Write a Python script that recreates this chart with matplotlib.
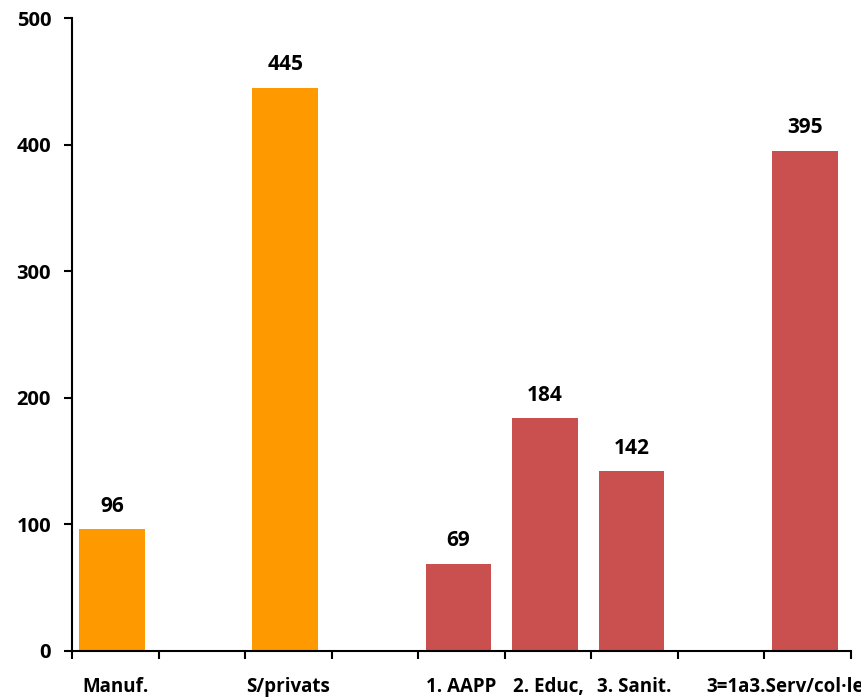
import matplotlib
matplotlib.use("Agg")
import matplotlib.pyplot as plt
import numpy as np

categories = ["Manuf.", "", "S/privats", "", "1. AAPP", "2. Educ,", "3. Sanit.", "", "3=1a3.Serv/col·lectius"]
values = [96, None, 445, None, 69, 184, 142, None, 395]
groups = ["priv", None, "priv", None, "pub", "pub", "pub", None, "pub"]
group_colors = {"priv": "#FF9900", "pub": "#C9504F"}
yticks = [0, 100, 200, 300, 400, 500]

plt.rcParams['font.family'] = ['Open Sans', 'DejaVu Sans']
plt.rcParams['font.weight'] = 'bold'

fig = plt.figure(figsize=(8.61, 6.98), dpi=100)
ax = fig.add_axes([72/861, 47/698, (851-72)/861, (651-18)/698])

x = np.arange(len(categories))
for xi, v, g in zip(x, values, groups):
    if v is None:
        continue
    ax.bar(xi - 0.035, v, width=0.76, color=group_colors[g], zorder=2)
    ax.annotate(str(v), (xi - 0.035, v), xytext=(0, 9), textcoords="offset points",
                ha="center", va="bottom", fontsize=15, fontweight="bold")

ax.set_xlim(-0.5, len(categories) - 0.5)
ax.set_ylim(0, 500)
ax.set_yticks(yticks)
ax.set_yticklabels([str(t) for t in yticks], fontsize=14.5, fontweight="bold")

ax.set_xticks(x)
ax.set_xticklabels(categories, fontsize=13.5, fontweight="bold")
ax.tick_params(axis="x", which="major", length=0, pad=19)
ax.set_xticks(np.arange(len(categories) + 1) - 0.5, minor=True)
ax.tick_params(axis="x", which="minor", length=6, width=1.5, direction="out")
ax.tick_params(axis="y", length=6, width=1.5, direction="out", pad=9)

for s in ["top", "right"]:
    ax.spines[s].set_visible(False)
for s in ["left", "bottom"]:
    ax.spines[s].set_linewidth(1.5)
    ax.spines[s].set_color("black")

fig.savefig("out.png", dpi=100)
